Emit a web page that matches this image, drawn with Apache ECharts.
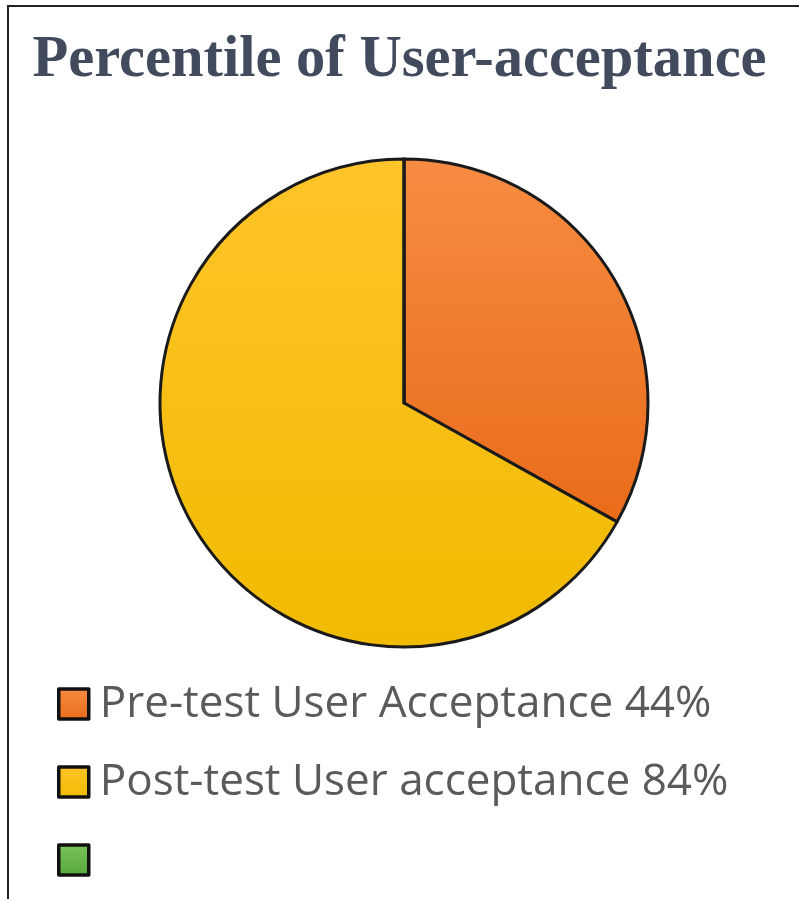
<!DOCTYPE html>
<html>
<head>
<meta charset="utf-8">
<script src="https://cdn.jsdelivr.net/npm/echarts@6/dist/echarts.min.js"></script>
<style>html,body{margin:0;padding:0;background:#fff}#c{width:799px;height:899px}</style>
</head>
<body>
<div id="c"></div>
<script>
const titleText = 'Percentile of User-acceptance';
const categories = ['Pre-test User Acceptance 44%', 'Post-test User acceptance 84%', ' '];
// slice shares (about 119° vs 241°)
const sliceShares = [33.1, 66.9, 0];
const topColors = ['#F68C42', '#FFC42A', '#7CC45A'];
const bottomColors = ['#E96C1A', '#F0BB00', '#55A83A'];

const chart = echarts.init(document.getElementById('c'));
const grad = (i) => new echarts.graphic.LinearGradient(0, 0, 0, 1, [
  { offset: 0, color: topColors[i] }, { offset: 1, color: bottomColors[i] }
]);
chart.setOption({
  animation: false,
  title: {
    text: titleText,
    left: 'center',
    top: 26,
    textStyle: { fontFamily: 'Liberation Serif', fontWeight: 'bold', fontSize: 58.5, color: '#424B5E' }
  },
  legend: {
    orient: 'vertical',
    left: 52,
    top: 677,
    itemWidth: 30,
    itemHeight: 30,
    itemGap: 34,
    icon: 'rect',
    data: categories,
    itemStyle: { borderColor: '#111', borderWidth: 3.5 },
    textStyle: { fontFamily: 'Open Sans', fontSize: 44, color: '#5A5A5A', lineHeight: 42, padding: [0, 0, 0, 6] }
  },
  series: [{
    type: 'pie',
    center: [404, 403],
    radius: 244,
    startAngle: 90,
    label: { show: false },
    labelLine: { show: false },
    emphasis: { disabled: true },
    itemStyle: { borderColor: '#1a1a1a', borderWidth: 3 },
    data: categories.map((n, i) => ({ name: n, value: sliceShares[i], itemStyle: { color: grad(i) } }))
  }],
  graphic: [
    { type: 'line', shape: { x1: 8, y1: 6, x2: 8, y2: 899 }, style: { stroke: '#222', lineWidth: 2 } },
    { type: 'line', shape: { x1: 7, y1: 6, x2: 799, y2: 6 }, style: { stroke: '#222', lineWidth: 2 } }
  ]
});
</script>
</body>
</html>
